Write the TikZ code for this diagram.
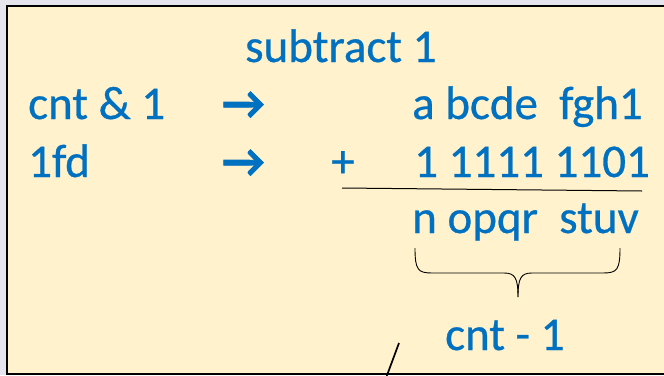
\documentclass[tikz,border=0pt]{standalone}
\usepackage{fontspec}
\setmainfont{Carlito}
\definecolor{note}{HTML}{FFF2CC}
\definecolor{txt}{HTML}{0070C0}
\definecolor{outside}{HTML}{E6E4EC}
\begin{document}
\begin{tikzpicture}[x=1pt,y=-1pt,
  lbl/.style={inner sep=0pt, anchor=base west, text=txt, font=\fontsize{47}{56}\selectfont\addfontfeature{FakeBold=0.6}},
  arr/.style={inner sep=0pt, anchor=base west, text=txt, font=\fontsize{47}{56}\selectfont\bfseries\addfontfeature{FakeBold=1.5}},
  rule/.style={draw=black, line width=1pt}]
\useasboundingbox (0,0) rectangle (664,375);
\fill[outside] (0,0) rectangle (664,375);
\path[fill=note, draw=black, line width=2pt] (7,6) rectangle (720,374);
\node[lbl] (sub) at (245,62) {subtract 1};
\node[lbl] (cnt) at (28,119) {cnt \& 1};
\node[lbl] (fd) at (28,177) {1fd};
\node[arr] (ar1) at (222,119) {→};
\node[arr] (ar2) at (222,177) {→};
\node[lbl] (abc) at (412,119) {a bcde\ \ fgh1};
\node[lbl] (plus) at (331,177) {+};
\node[lbl] (ones) at (414,177) {1 1111 1101};
\node[lbl] (res) at (412,233) {n opqr\ \ stuv};
\node[lbl] (cm1) at (445,350) {cnt - 1};
\coordinate (l1) at (342,188);
\coordinate (l2) at (642,191);
\draw[rule] (l1) -- (l2);
\coordinate (bl) at (415,248);
\coordinate (br) at (620,248);
\coordinate (tip) at (518,297);
\draw[line width=0.9pt] (bl) .. controls (415,270) and (418,273) .. (432,273) -- (504,273)
  .. controls (515,273) and (518,278) .. (tip);
\draw[line width=0.9pt] (br) .. controls (620,270) and (617,273) .. (603,273) -- (532,273)
  .. controls (521,273) and (518,278) .. (tip);
\coordinate (s1) at (399,343);
\coordinate (s2) at (386,378);
\draw[line width=1.7pt] (s1) -- (s2);
\end{tikzpicture}
\end{document}
